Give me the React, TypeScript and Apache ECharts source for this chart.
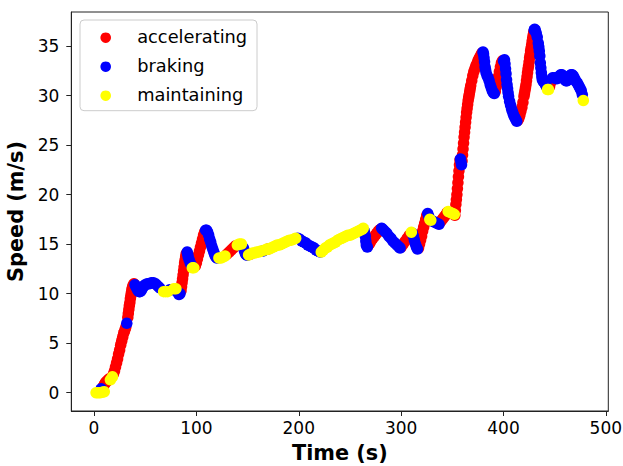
import React, { useEffect, useRef } from 'react';
import * as echarts from 'echarts';

const categories = ['accelerating', 'braking', 'maintaining'];
const colors = ['#ff0000', '#0000ff', '#ffff00'];
const xTicks = [0, 100, 200, 300, 400, 500];
const yTicks = [0, 5, 10, 15, 20, 25, 30, 35];

// [time (s), speed (m/s)]
const accelerating = [
  [9, 0.6], [10, 0.8], [11, 1.0], [12, 1.1], [13, 1.2], [14, 1.3], [15, 1.4],
  [19, 1.9], [20, 2.2], [21, 2.6], [22, 3.0], [23, 3.4], [24, 3.9], [25, 4.3], [26, 4.8], [27, 5.2], [28, 5.6], [29, 6.0], [30, 6.3], [31, 6.6],
  [33, 7.6], [33.5, 8.0], [34, 8.4], [34.5, 8.8], [35, 9.1], [35.5, 9.5], [36, 9.8], [36.5, 10.1], [37, 10.4], [37.5, 10.6], [38, 10.8], [39, 11.0],
  [85, 10.3], [85.5, 10.7], [86, 11.1], [86.5, 11.5], [87, 11.9], [87.5, 12.3], [88, 12.7], [88.5, 13.1], [89, 13.4], [89.5, 13.7], [90, 14.0],
  [99, 12.8], [100, 13.1], [101, 13.5], [102, 13.9], [103, 14.3], [104, 14.7], [105, 15.1], [106, 15.5], [107, 15.9], [108, 16.2],
  [130, 14.0], [132, 14.2], [134, 14.4], [136, 14.6], [138, 14.8],
  [153, 14.0], [170, 14.5],
  [268, 14.9], [269.5, 15.1], [271, 15.4], [272.5, 15.6], [274, 15.8], [275.5, 16.0], [277, 16.2], [278.5, 16.4], [280, 16.5],
  [300, 14.7], [302, 15.0], [304, 15.3], [306, 15.6], [308, 15.9],
  [317, 14.6], [318, 15.0], [319, 15.4], [320, 15.8], [321, 16.3], [322, 16.7], [323, 17.1], [324, 17.5], [325, 17.9],
  [338, 17.2], [339.5, 17.4], [341, 17.6], [342.5, 17.8], [344, 18.0], [345, 18.2],
  [352.5, 17.9], [353, 18.4], [353.5, 19.0], [354, 19.5], [354.5, 20.0], [355, 20.6], [355.5, 21.2], [356, 21.8], [356.5, 22.4], [357, 23.0], [357.5, 23.5],
  [359.5, 23.4], [360, 24.0], [360.5, 24.6], [361, 25.2], [361.5, 25.8], [362, 26.3], [362.5, 26.8], [363, 27.3], [363.5, 27.8], [364, 28.3], [364.5, 28.7],
  [365, 29.1], [365.5, 29.5], [366, 29.8], [366.5, 30.1], [367, 30.4], [367.5, 30.7], [368, 31.0], [369, 31.5], [370, 32.0], [371, 32.4], [372, 32.7],
  [373, 33.0], [374, 33.2], [375, 33.5], [376, 33.7], [377, 33.9], [378, 34.1], [379, 34.3],
  [392, 30.4], [393, 30.9], [394, 31.4], [395, 31.9], [396, 32.4], [397, 32.9], [398, 33.3], [399, 33.5],
  [414, 27.5], [415, 27.7], [416, 28.0], [417, 28.4], [418, 28.8], [419, 29.3], [420, 29.9], [420.5, 30.2], [421, 30.5], [421.5, 30.8], [422, 31.1],
  [422.5, 31.5], [423, 31.9], [423.5, 32.3], [424, 32.7], [424.5, 33.0], [425, 33.4], [425.5, 33.8], [426, 34.1], [426.5, 34.5], [427, 34.8],
  [427.5, 35.1], [428, 35.5], [428.5, 35.8], [429, 36.1], [429.5, 36.4],
  [445, 30.9], [446, 31.3], [447, 31.6],
];

const braking = [
  [7, 0.4],
  [32, 7.0],
  [40, 10.9], [41, 10.7], [42, 10.5], [43, 10.3], [44, 10.2], [45, 10.2], [46, 10.3], [47, 10.5], [48, 10.7], [49, 10.8], [50, 10.9],
  [52, 11.0], [54, 11.0], [56, 11.1], [58, 11.1], [60, 11.0], [62, 10.8], [64, 10.6],
  [74, 10.4], [76, 10.4], [82, 10.1], [83, 9.9], [84, 10.0],
  [91, 14.2], [91.5, 14.0], [92, 13.7], [93, 13.4], [94, 13.1], [95, 12.9],
  [109, 16.4], [110, 16.4], [111, 16.2], [112, 15.9], [113, 15.5], [114, 15.2], [115, 14.8], [116, 14.5], [117, 14.2], [118, 13.9], [119, 13.7], [120, 13.6],
  [146, 14.6], [147, 14.3], [148, 14.0], [149, 13.9], [150, 13.9],
  [165, 14.3],
  [199, 15.6], [201, 15.5], [203, 15.3], [205, 15.2], [207, 15.1], [209, 14.9], [211, 14.8], [213, 14.7], [215, 14.6], [217, 14.4], [219, 14.3], [221, 14.2],
  [264, 16.3], [265, 15.8], [265.5, 15.3], [266, 14.9], [267, 14.7],
  [281, 16.6], [282, 16.5], [284, 16.3], [286, 16.1], [288, 15.8], [290, 15.6], [292, 15.3], [294, 15.1], [296, 14.9], [298, 14.7], [299, 14.6],
  [311, 16.1], [312, 15.8], [313, 15.4], [314, 15.0], [315, 14.7], [316, 14.5],
  [326, 18.1], [327, 17.8], [331, 17.3], [333, 17.2], [335, 17.1], [337, 17.0],
  [358, 23.6], [358.5, 23.3], [359, 23.0],
  [380, 34.4], [380.5, 34.2], [381, 33.8], [381.5, 33.4], [382, 32.9], [382.5, 32.6], [383, 32.3], [384, 32.0], [385, 31.8], [386, 31.5],
  [387, 31.1], [388, 30.8], [389, 30.5], [390, 30.3], [391, 30.2],
  [400, 33.5], [401, 33.6], [401.5, 33.2], [402, 32.7], [402.5, 32.2], [403, 31.6], [403.5, 31.1], [404, 30.7], [404.5, 30.3], [405, 29.9],
  [406, 29.4], [407, 29.0], [408, 28.6], [409, 28.3], [410, 28.0], [411, 27.8], [412, 27.6], [413, 27.4],
  [430, 36.6], [430.5, 36.7], [431, 36.6], [432, 36.3], [433, 35.9], [434, 35.3], [434.5, 34.9], [435, 34.5], [435.5, 34.0], [436, 33.3],
  [436.5, 32.8], [437, 32.3], [437.5, 31.9], [438, 31.6], [439, 31.4], [440, 31.3], [441, 31.1], [442, 30.9],
  [448, 31.8], [450, 31.8], [452, 31.7], [454, 31.8], [455, 32.0], [456, 32.1], [457, 32.1], [458, 32.0], [459, 31.8], [460, 31.6], [461, 31.5],
  [462, 31.5], [463, 31.6], [464, 31.8], [465, 32.0], [466, 32.1], [467, 32.1], [468, 32.0], [469, 31.8], [470, 31.6], [471, 31.4], [472, 31.3],
  [473, 31.1], [474, 30.9], [475, 30.7], [476, 30.5], [477, 30.1],
];

const maintaining = [
  [2, 0.0], [4, 0.0], [6, 0.0], [8, 0.05], [10, 0.1],
  [16, 1.3], [18, 1.6],
  [68, 10.2], [70, 10.2], [72, 10.2], [78, 10.5], [80, 10.5],
  [96, 12.6], [97.5, 12.6],
  [122, 13.6], [124, 13.6], [126, 13.7], [128, 13.8],
  [140, 14.9], [142, 15.0], [144, 15.0],
  [151, 13.9], [153, 14.0], [155, 14.1], [157, 14.1], [159, 14.2], [161, 14.2], [163, 14.3], [167, 14.4], [169, 14.5], [171, 14.5], [173, 14.6],
  [175, 14.7], [177, 14.8], [179, 14.9], [181, 14.9], [183, 15.0], [185, 15.1], [187, 15.2], [189, 15.3], [191, 15.4], [193, 15.4], [195, 15.5], [197, 15.6],
  [222, 14.2], [224, 14.4], [226, 14.6], [228, 14.7], [230, 14.9], [232, 15.0], [234, 15.1], [236, 15.2], [238, 15.4], [240, 15.5], [242, 15.6],
  [244, 15.7], [246, 15.8], [248, 15.9], [250, 15.9], [252, 16.0], [254, 16.1], [256, 16.2], [258, 16.3], [260, 16.4], [262, 16.5], [263, 16.6],
  [310, 16.2],
  [328, 17.5], [329, 17.4],
  [346, 18.3], [348, 18.2], [350, 18.1], [352, 18.0],
  [443, 30.6], [444, 30.6],
  [478, 29.5],
];

const seriesData = [accelerating, braking, maintaining];
const FONT = 'DejaVu Sans';

// legend box geometry (pixels)
const LEGEND_BOX = { x: 80, y: 20, width: 177, height: 90.7 };
const LEGEND_MARKER_X = 105.7;
const LEGEND_TEXT_X = 137.2;
const LEGEND_ROW_Y0 = 37.7;
const LEGEND_ROW_STEP = 29;

export default function App() {
  const ref = useRef<HTMLDivElement>(null);

  useEffect(() => {
    if (!ref.current) return;
    const chart = echarts.init(ref.current, null, { renderer: 'svg' });

    const legendElements: any[] = [
      {
        type: 'rect',
        shape: { ...LEGEND_BOX, r: 4 },
        style: { fill: 'rgba(255,255,255,0.8)', stroke: '#cccccc', lineWidth: 1 },
      },
    ];
    categories.forEach((name, i) => {
      const cy = LEGEND_ROW_Y0 + i * LEGEND_ROW_STEP;
      legendElements.push({
        type: 'circle',
        shape: { cx: LEGEND_MARKER_X, cy, r: 5.3 },
        style: { fill: colors[i] },
      });
      legendElements.push({
        type: 'text',
        x: LEGEND_TEXT_X,
        y: cy - 1,
        style: {
          text: name,
          fill: '#000',
          fontSize: 17.8,
          fontFamily: FONT,
          textAlign: 'left',
          textVerticalAlign: 'middle',
          verticalAlign: 'middle',
        },
      });
    });

    chart.setOption({
      animation: false,
      backgroundColor: '#ffffff',
      textStyle: { fontFamily: FONT },
      grid: {
        left: 71.3,
        right: 14.7,
        top: 12,
        bottom: 55,
        show: true,
        borderColor: '#222',
        borderWidth: 1,
        backgroundColor: 'transparent',
        containLabel: false,
        outerBoundsMode: 'none',
      },
      graphic: [{ type: 'group', z: 100, silent: true, children: legendElements }],
      xAxis: {
        type: 'value',
        min: -22.2,
        max: 502.4,
        splitLine: { show: false },
        axisLine: { show: true, onZero: false, lineStyle: { color: '#222', width: 1 } },
        axisTick: { show: true, inside: false, length: 5, lineStyle: { color: '#222', width: 1 }, customValues: xTicks },
        axisLabel: { customValues: xTicks, fontSize: 17, color: '#000', margin: 8, fontFamily: FONT },
        name: 'Time (s)',
        nameLocation: 'middle',
        nameGap: 31,
        nameTextStyle: { fontSize: 20.8, fontWeight: 'bold', color: '#000', fontFamily: FONT },
      },
      yAxis: {
        type: 'value',
        min: -1.85,
        max: 38.43,
        splitLine: { show: false },
        axisLine: { show: true, onZero: false, lineStyle: { color: '#222', width: 1 } },
        axisTick: { show: true, inside: false, length: 5, lineStyle: { color: '#222', width: 1 }, customValues: yTicks },
        axisLabel: { customValues: yTicks, fontSize: 17, color: '#000', margin: 12, fontFamily: FONT },
        name: 'Speed (m/s)',
        nameLocation: 'middle',
        nameRotate: 90,
        nameGap: 41,
        nameTextStyle: { fontSize: 20.8, fontWeight: 'bold', color: '#000', fontFamily: FONT },
      },
      series: categories.map((name, i) => ({
        type: 'scatter',
        name,
        data: seriesData[i],
        symbol: 'circle',
        symbolSize: 11.5,
        silent: true,
        itemStyle: { color: colors[i], opacity: 1 },
        emphasis: { disabled: true },
      })),
    });
    return () => chart.dispose();
  }, []);

  return (
    <div
      ref={ref}
      style={{ position: 'absolute', left: 0, top: 0, width: 623, height: 466 }}
    />
  );
}
